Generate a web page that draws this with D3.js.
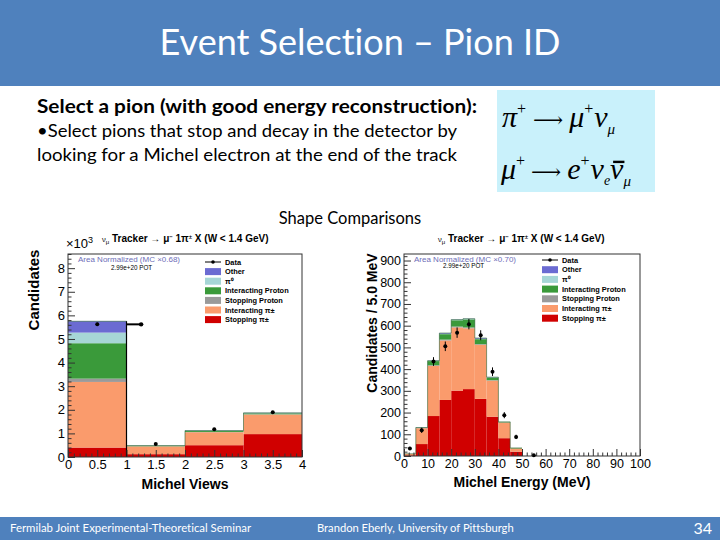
<!DOCTYPE html>
<html><head><meta charset="utf-8">
<script src="https://cdn.jsdelivr.net/npm/d3@7"></script>
<style>body{margin:0;background:#fff}svg{display:block}text{font-variant-ligatures:none}</style>
</head><body>
<script>
// ---------- DATA ----------
const layerKeys = ["stopPi","intPi","stopP","intP","pi0","other"];
const legendNames = ["Other","π⁰","Interacting Proton","Stopping Proton","Interacting π±","Stopping π±"];

// Left: Michel Views (x10^3), bins [0,1),[1,2),[2,3),[3,4)
const viewEdges = [0,1,2,3,4];
const viewStopPi = [0.40, 0.12, 0.50, 0.97];
const viewIntPi  = [2.78, 0.33, 0.55, 0.83];
const viewStopP  = [0.14, 0.005, 0.01, 0.01];
const viewIntP   = [1.50, 0.02, 0.04, 0.04];
const viewPi0    = [0.45, 0.005, 0.01, 0.01];
const viewOther  = [0.48, 0.005, 0.01, 0.01];
const viewDataX  = [0.5, 1.5, 2.5, 3.5];
const viewDataY  = [5.62, 0.55, 1.18, 1.90];
const viewDataErr= [0.07, 0.02, 0.03, 0.04];
const viewTicks  = [0,0.5,1,1.5,2,2.5,3,3.5,4];

// Right: Michel Energy (MeV), 5 MeV bins 0-50
const eEdges = [0,5,10,15,20,25,30,35,40,45,50];
const eStopPi = [3, 55, 184, 258, 301, 308, 263, 181, 82, 20];
const eIntPi  = [7, 73, 231, 274, 291, 280, 249, 166, 72, 15];
const eStopP  = [0, 1, 3, 4, 4, 4, 3, 2, 1, 0];
const eIntP   = [0, 1, 19, 25, 29, 37, 23, 12, 2, 2];
const ePi0    = [0, 0, 1, 2, 2, 2, 2, 1, 0, 0];
const eOther  = [0, 1, 1, 3, 1, 1, 3, 1, 0, 0];
const eDataX  = [2.5, 7.5, 12.5, 17.5, 22.5, 27.5, 32.5, 37.5, 42.5, 47.5, 55];
const eDataY  = [35, 118, 435, 505, 568, 607, 556, 388, 188, 88, 3];
const eDataErr= [7, 12, 20, 22, 24, 24, 23, 20, 14, 10, 2];
const eTicks  = [0,10,20,30,40,50,60,70,80,90,100];

const colors = {stopPi:"#d00000", intPi:"#fa9b6c", stopP:"#9a9a9a", intP:"#3a9a3a", pi0:"#a6d6d6", other:"#6b6bd2"};

// ---------- SLIDE ----------
const W=720,H=540;
const svg=d3.select("body").append("svg").attr("width",W).attr("height",H);
const slideFont="Lato, 'Open Sans', sans-serif";
const rootFont="'Liberation Sans', Arial, sans-serif";

svg.append("rect").attr("x",0).attr("y",0).attr("width",W).attr("height",86).attr("fill","#4f81bd");
svg.append("text").attr("x",360).attr("y",55).attr("text-anchor","middle").attr("fill","#fff")
  .attr("font-family",slideFont).attr("font-size",36).text("Event Selection – Pion ID");

svg.append("rect").attr("x",0).attr("y",517).attr("width",W).attr("height",23).attr("fill","#4f81bd");
svg.append("text").attr("x",10).attr("y",532).attr("fill","#fff").attr("font-family",slideFont).attr("font-size",11.4)
  .text("Fermilab Joint Experimental-Theoretical Seminar");
svg.append("text").attr("x",317).attr("y",532).attr("fill","#fff").attr("font-family",slideFont).attr("font-size",11.2)
  .text("Brandon Eberly, University of Pittsburgh");
svg.append("text").attr("x",712).attr("y",534).attr("text-anchor","end").attr("fill","#fff").attr("font-family",slideFont).attr("font-size",16)
  .text("34");

const tb=svg.append("g").attr("font-family",slideFont).attr("font-size",18.2).attr("fill","#000");
tb.append("text").attr("x",37).attr("y",113).attr("font-weight","bold").attr("textLength",440).attr("lengthAdjust","spacingAndGlyphs").text("Select a pion (with good energy reconstruction):");
tb.append("text").attr("x",37).attr("y",137).attr("textLength",420).attr("lengthAdjust","spacingAndGlyphs").text("•Select pions that stop and decay in the detector by");
tb.append("text").attr("x",37).attr("y",161).attr("textLength",420).attr("lengthAdjust","spacingAndGlyphs").text("looking for a Michel electron at the end of the track");

svg.append("text").attr("x",350).attr("y",224).attr("text-anchor","middle").attr("font-family",slideFont).attr("font-size",16.5).text("Shape Comparisons");

// equation box
svg.append("rect").attr("x",497).attr("y",90).attr("width",158).attr("height",102).attr("fill","#c9f1fb");
const eq=svg.append("g").attr("font-family","'Liberation Serif', 'Times New Roman', serif").attr("font-style","italic").attr("font-size",30).attr("fill","#000");
const arrowFont="'DejaVu Serif', serif";
const l1=eq.append("text").attr("x",502).attr("y",127);
l1.append("tspan").text("π");
l1.append("tspan").attr("font-size",16).attr("dy",-13).attr("font-style","normal").text("+");
l1.append("tspan").attr("dy",13).attr("dx",7).attr("font-style","normal").attr("font-family",arrowFont).attr("font-size",21).text("⟶");
l1.append("tspan").attr("dx",6).text("μ");
l1.append("tspan").attr("font-size",16).attr("dy",-13).attr("font-style","normal").text("+");
l1.append("tspan").attr("dy",13).attr("dx",1).text("ν");
l1.append("tspan").attr("font-size",15).attr("dy",7).text("μ");
const l2=eq.append("text").attr("x",501).attr("y",179);
l2.append("tspan").text("μ");
l2.append("tspan").attr("font-size",16).attr("dy",-13).attr("font-style","normal").text("+");
l2.append("tspan").attr("dy",13).attr("dx",6).attr("font-style","normal").attr("font-family",arrowFont).attr("font-size",21).text("⟶");
l2.append("tspan").attr("dx",6).text("e");
l2.append("tspan").attr("font-size",16).attr("dy",-13).attr("font-style","normal").text("+");
l2.append("tspan").attr("dy",13).attr("dx",1).text("ν");
l2.append("tspan").attr("font-size",14).attr("dy",6).text("e");
const nubar=l2.append("tspan").attr("dy",-6).text("ν");
l2.append("tspan").attr("font-size",15).attr("dy",7).text("μ");

// ---------- PLOT FUNCTION ----------
function drawPlot(cfg){
  const g=svg.append("g");
  const x=d3.scaleLinear().domain(cfg.xDomain).range(cfg.xRange);
  const y=d3.scaleLinear().domain(cfg.yDomain).range(cfg.yRange);
  const rows=cfg.edges.slice(0,-1).map((e,i)=>{
    const r={x0:e,x1:cfg.edges[i+1]};
    layerKeys.forEach(k=>r[k]=cfg.layers[k][i]);
    return r;});
  const stack=d3.stack().keys(layerKeys)(rows);
  g.append("rect").attr("x",x(cfg.xDomain[0])).attr("y",y(cfg.yDomain[1]))
    .attr("width",x(cfg.xDomain[1])-x(cfg.xDomain[0])).attr("height",y(cfg.yDomain[0])-y(cfg.yDomain[1])).attr("fill","#fff");
  stack.forEach(layer=>{
    g.append("g").selectAll("rect").data(layer).join("rect")
      .attr("x",d=>x(d.data.x0)).attr("width",d=>x(d.data.x1)-x(d.data.x0))
      .attr("y",d=>y(d[1])).attr("height",d=>Math.max(0,y(d[0])-y(d[1])))
      .attr("fill",colors[layer.key]);
  });
  const top=stack[stack.length-1];
  const lineGen=d3.line().curve(d3.curveStepAfter);
  const pts=[];
  top.forEach(d=>{pts.push([x(d.data.x0),y(d[1])]);});
  pts.push([x(top[top.length-1].data.x1),y(top[top.length-1][1])]);
  g.append("path").attr("d",lineGen(pts)).attr("fill","none").attr("stroke","#1f5a2a").attr("stroke-width",0.8).attr("opacity",0.7);
  if(cfg.extra) cfg.extra(g,x,y);
  g.append("rect").attr("x",x(cfg.xDomain[0])).attr("y",y(cfg.yDomain[1]))
    .attr("width",x(cfg.xDomain[1])-x(cfg.xDomain[0])).attr("height",y(cfg.yDomain[0])-y(cfg.yDomain[1]))
    .attr("fill","none").attr("stroke","#333").attr("stroke-width",1);
  const dg=g.append("g");
  cfg.dataX.forEach((dx,i)=>{
    const cx=x(dx), cy=y(cfg.dataY[i]), e=cfg.dataErr[i];
    dg.append("line").attr("x1",cx).attr("x2",cx).attr("y1",y(cfg.dataY[i]+e)).attr("y2",y(cfg.dataY[i]-e)).attr("stroke","#000").attr("stroke-width",1);
    dg.append("circle").attr("cx",cx).attr("cy",cy).attr("r",2).attr("fill","#000");
  });
  const x0=x(cfg.xDomain[0]), yb=y(cfg.yDomain[0]);
  const yAx=d3.axisLeft(y).tickValues(cfg.yMajor).tickSize(-7).tickPadding(3).tickFormat(cfg.yFmt);
  const yMin=d3.axisLeft(y).tickValues(cfg.yMinor).tickSize(-3.5).tickFormat("");
  const xAx=d3.axisBottom(x).tickValues(cfg.xMajor).tickSize(-7).tickPadding(3).tickFormat(cfg.xFmt);
  const xMin=d3.axisBottom(x).tickValues(cfg.xMinor).tickSize(-3.5).tickFormat("");
  [yAx,yMin].forEach(a=>{const ag=g.append("g").attr("transform",`translate(${x0},0)`).call(a);
    ag.select(".domain").remove();
    ag.selectAll("text").attr("font-family",rootFont).attr("font-size",cfg.tickFont).attr("fill","#000");
    ag.selectAll("line").attr("stroke","#333");});
  [xAx,xMin].forEach(a=>{const ag=g.append("g").attr("transform",`translate(0,${yb})`).call(a);
    ag.select(".domain").remove();
    ag.selectAll("text").attr("font-family",rootFont).attr("font-size",cfg.tickFont).attr("fill","#000");
    ag.selectAll("line").attr("stroke","#333");});
  g.append("text").attr("transform",`translate(${cfg.yTitlePos[0]},${cfg.yTitlePos[1]}) rotate(-90)`).attr("text-anchor","middle")
    .attr("font-family",rootFont).attr("font-weight","bold").attr("font-size",cfg.yTitleSize).text(cfg.yTitle);
  g.append("text").attr("x",cfg.xTitlePos[0]).attr("y",cfg.xTitlePos[1]).attr("text-anchor","middle")
    .attr("font-family",rootFont).attr("font-weight","bold").attr("font-size",14).text(cfg.xTitle);
  const t=g.append("text").attr("x",cfg.titlePos[0]).attr("y",cfg.titlePos[1]).attr("font-family",rootFont).attr("font-weight","bold").attr("font-size",cfg.titleSize);
  t.append("tspan").attr("font-weight","normal").attr("font-size",cfg.titleSize*0.75).text("ν");
  t.append("tspan").attr("font-weight","normal").attr("font-size",cfg.titleSize*0.6).attr("dy",2).text("μ");
  t.append("tspan").attr("dy",-2).text(" Tracker → μ");
  t.append("tspan").attr("font-size",cfg.titleSize*0.6).attr("dy",-3).text("−");
  t.append("tspan").attr("dy",3).text(" 1π");
  t.append("tspan").attr("font-size",cfg.titleSize*0.6).attr("dy",-3).text("±");
  t.append("tspan").attr("dy",3).text(" X  (W < 1.4 GeV)");
  g.append("text").attr("x",cfg.normPos[0]).attr("y",cfg.normPos[1]).attr("font-family",rootFont).attr("font-size",8).attr("fill","#6d6db8").text(cfg.normText);
  g.append("text").attr("x",cfg.potPos[0]).attr("y",cfg.potPos[1]).attr("font-family",rootFont).attr("font-size",6.3).attr("fill","#000").text("2.99e+20 POT");
  const lg=g.append("g").attr("font-family",rootFont).attr("font-size",7.4).attr("font-weight","bold");
  const lx=cfg.legX, ly=cfg.legY, dy=cfg.legDy;
  lg.append("line").attr("x1",lx).attr("x2",lx+16).attr("y1",ly).attr("y2",ly).attr("stroke","#000").attr("stroke-width",1);
  lg.append("circle").attr("cx",lx+8).attr("cy",ly).attr("r",1.8);
  lg.append("text").attr("x",lx+20).attr("y",ly+2.6).text("Data");
  const legKeys=["other","pi0","intP","stopP","intPi","stopPi"];
  legKeys.forEach((k,i)=>{
    const yy=ly+dy*(i+1);
    lg.append("rect").attr("x",lx).attr("y",yy-3.5).attr("width",16).attr("height",7).attr("fill",colors[k]);
    lg.append("text").attr("x",lx+20).attr("y",yy+2.6).text(legendNames[i]);
  });
  if(cfg.mult){
    const m=g.append("text").attr("x",cfg.mult[0]).attr("y",cfg.mult[1]).attr("font-family",rootFont).attr("font-size",13);
    m.append("tspan").text("×10");
    m.append("tspan").attr("font-size",9).attr("dy",-5).text("3");
  }
}

drawPlot({
  xDomain:[0,4], xRange:[68,302], yDomain:[0,8.6], yRange:[457,254],
  edges:viewEdges,
  layers:{stopPi:viewStopPi,intPi:viewIntPi,stopP:viewStopP,intP:viewIntP,pi0:viewPi0,other:viewOther},
  dataX:viewDataX, dataY:viewDataY, dataErr:viewDataErr,
  yMajor:d3.range(0,9,1), yMinor:d3.range(0,8.61,0.2).filter(v=>Math.abs(v-Math.round(v))>0.01),
  xMajor:viewTicks, xMinor:d3.range(0,4.01,0.1).filter(v=>Math.abs(v*2-Math.round(v*2))>0.01),
  yFmt:d3.format("d"), xFmt:d=>String(d), tickFont:13,
  yTitle:"Candidates", yTitlePos:[39,290], yTitleSize:15,
  xTitle:"Michel Views", xTitlePos:[185,489],
  titlePos:[102,242], titleSize:10,
  normText:"Area Normalized (MC ×0.68)", normPos:[78,261.5], potPos:[111,270],
  legX:205, legY:262, legDy:9.6,
  mult:[66,248],
  extra:(g,x,y)=>{
    g.append("line").attr("x1",x(1)).attr("x2",x(1)).attr("y1",y(0)).attr("y2",y(5.75)).attr("stroke","#000").attr("stroke-width",1.2);
    g.append("line").attr("x1",x(1)).attr("x2",x(1.25)).attr("y1",y(5.62)).attr("y2",y(5.62)).attr("stroke","#000").attr("stroke-width",2);
    g.append("circle").attr("cx",x(1.25)).attr("cy",y(5.62)).attr("r",2.2).attr("fill","#000");
  }
});

drawPlot({
  xDomain:[0,100], xRange:[404,640], yDomain:[0,930], yRange:[456,254],
  edges:eEdges,
  layers:{stopPi:eStopPi,intPi:eIntPi,stopP:eStopP,intP:eIntP,pi0:ePi0,other:eOther},
  dataX:eDataX, dataY:eDataY, dataErr:eDataErr,
  yMajor:d3.range(0,901,100), yMinor:d3.range(0,921,20).filter(v=>v%100!==0),
  xMajor:eTicks, xMinor:d3.range(0,101,2).filter(v=>v%10!==0),
  yFmt:d3.format("d"), xFmt:d3.format("d"), tickFont:12.5,
  yTitle:"Candidates / 5.0 MeV", yTitlePos:[377,323], yTitleSize:14,
  xTitle:"Michel Energy (MeV)", xTitlePos:[522,487],
  titlePos:[438,242], titleSize:10,
  normText:"Area Normalized (MC ×0.70)", normPos:[414,261.5], potPos:[443,268],
  legX:542, legY:260, legDy:9.7,
  mult:null
});

// bar over the anti-neutrino, placed from the rendered glyph
try{
  const ext=nubar.node().getExtentOfChar(0);
  svg.append("line").attr("x1",ext.x+3).attr("x2",ext.x+ext.width+1).attr("y1",ext.y+ext.height*0.3).attr("y2",ext.y+ext.height*0.3)
    .attr("stroke","#000").attr("stroke-width",2.4);
}catch(e){}
</script>
</body></html>
